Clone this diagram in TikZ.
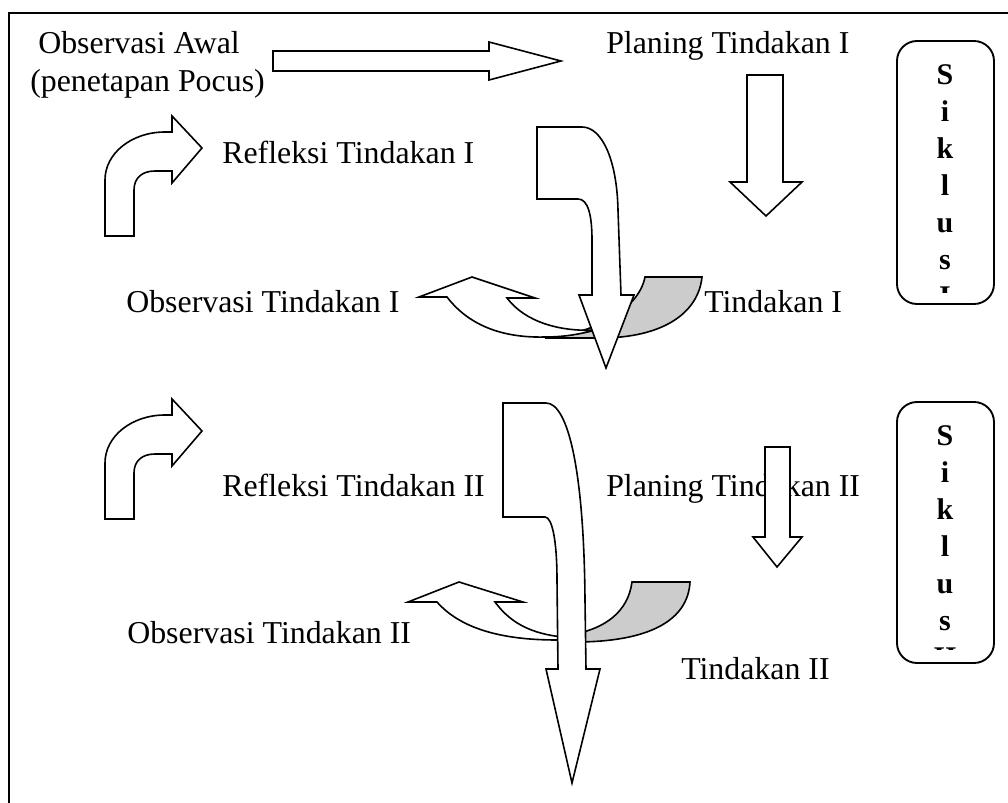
\documentclass[tikz,border=0pt]{standalone}
\usepackage{fontspec}
\setmainfont{Liberation Serif}
\usetikzlibrary{positioning}

\tikzset{
  blok/.style={draw, line width=1.2pt, fill=white},
  punggung/.style={draw, line width=1.2pt, fill=black!20},
  teks/.style={font=\fontsize{23.9}{28}\selectfont, inner sep=0pt, anchor=base west},
  huruf/.style={font=\fontsize{22.5}{26}\selectfont\bfseries, inner sep=0pt, anchor=base},
  kotak/.style={draw, line width=1.4pt, rounded corners=15}
}

\begin{document}
\begin{tikzpicture}[x=0.75pt,y=-0.75pt]
	\useasboundingbox (0,0) rectangle (1008,803);
	% bingkai
	\draw[line width=1.5pt] (9,810) -- (9,13) -- (1015,13);

	% teks
	\node[teks] (obsawal) at (38,53) {Observasi Awal};
	\node[teks] (pocus) at (30,91) {(penetapan Pocus)};
	\node[teks] (plan1) at (606,53) {Planing Tindakan I};
	\node[teks] (ref1) at (222,163) {Refleksi Tindakan I};
	\node[teks] (obs1) at (126,312) {Observasi Tindakan I};
	\node[teks] (tin1) at (704,312) {Tindakan I};
	\node[teks] (ref2) at (222,496) {Refleksi Tindakan II};
	\node[teks] (plan2) at (606,496) {Planing Tindakan II};
	\node[teks] (obs2) at (127,643) {Observasi Tindakan II};
	\node[teks] (tin2) at (681,679) {Tindakan II};

	% panah awal -> planing
	\draw[blok] (273,51) -- (489,51) -- (489,42) -- (561,61) -- (489,80) -- (489,71) -- (273,71) -- cycle;
	% panah planing -> tindakan
	\draw[blok] (747,75) -- (783,75) -- (783,182) -- (802,182) -- (766,216) -- (730,182) -- (747,182) -- cycle;
	\draw[blok] (765,447) -- (790,447) -- (790,537) -- (802,537) -- (777,567) -- (753,537) -- (765,537) -- cycle;

	% panah belok (refleksi)
	\draw[blok] (105,236) -- (105,180) .. controls (105,153) and (132,132) .. (165,132) -- (172,132)
		-- (172,116) -- (202,148) -- (172,183) -- (172,171) -- (155,171)
		.. controls (142,171) and (134,178) .. (134,190) -- (134,236) -- cycle;
	\draw[blok, shift={(0,283)}] (105,236) -- (105,180) .. controls (105,153) and (132,132) .. (165,132) -- (172,132)
		-- (172,116) -- (202,148) -- (172,183) -- (172,171) -- (155,171)
		.. controls (142,171) and (134,178) .. (134,190) -- (134,236) -- cycle;

	% siklus I
	\draw[punggung] (645,277) -- (702,277) .. controls (698,315) and (660,338) .. (600,338) -- (545,338)
		.. controls (590,334) and (638,312) .. (645,277) -- cycle;
	\draw[blok] (596,330) .. controls (580,334) and (565,337) .. (545,337)
		.. controls (505,338) and (470,327) .. (447,297) -- (419,297) -- (472,277) -- (535,298) -- (507,298)
		.. controls (525,322) and (560,332) .. (596,330) -- cycle;
	\draw[blok] (537,127) -- (582,127) .. controls (602,127) and (617,160) .. (618,210) -- (621,295)
		-- (634,295) -- (606,368) -- (579,295) -- (592,295) -- (592,240)
		.. controls (592,215) and (588,199) .. (578,199) -- (537,199) -- cycle;

	% siklus II
	\draw[punggung] (632,582) -- (690,582) .. controls (688,620) and (650,642) .. (575,642) -- (575,634)
		.. controls (605,628) and (628,612) .. (632,582) -- cycle;
	\draw[blok] (575,640) -- (557,640) .. controls (500,640) and (460,628) .. (437,602) -- (408,602)
		-- (459,582) -- (523,602) -- (495,602) .. controls (512,625) and (535,636) .. (575,638) -- cycle;
	\draw[blok] (503,403) -- (546,403) .. controls (568,403) and (584,470) .. (585,600) -- (586,669)
		-- (600,669) -- (572,783) -- (546,669) -- (558,669) -- (557,580)
		.. controls (557,540) and (552,517) .. (545,517) -- (503,517) -- cycle;

	% kotak siklus
	\draw[kotak] (897,41) rectangle (994,304);
	\draw[kotak] (897,402) rectangle (994,663);
	\begin{scope}
		\clip (897,41) rectangle (994,292.5);
		\foreach \ch [count=\i] in {S,i,k,l,u,s,I}
			\node[huruf] (sa\i) at (945,{84+37*(\i-1)}) {\ch};
	\end{scope}
	\begin{scope}
		\clip (897,402) rectangle (994,649.5);
		\foreach \ch [count=\i] in {S,i,k,l,u,s,II}
			\node[huruf] (sb\i) at (945,{445+37*(\i-1)}) {\ch};
	\end{scope}
\end{tikzpicture}
\end{document}
